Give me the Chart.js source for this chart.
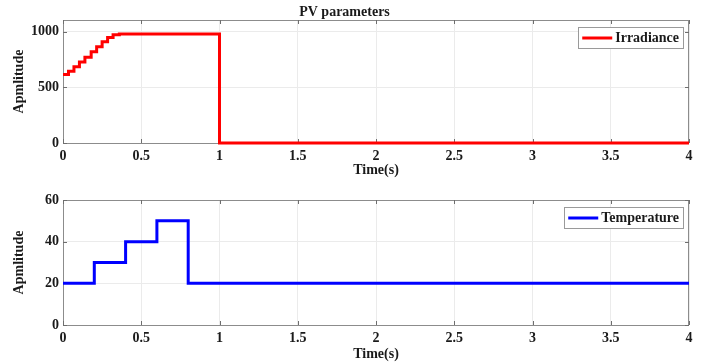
<!DOCTYPE html>
<html>
<head>
<meta charset="utf-8">
<script src="https://cdn.jsdelivr.net/npm/chart.js@4.4.1/dist/chart.umd.min.js"></script>
<style>
  html, body { margin: 0; padding: 0; background: #fff; }
  #wrap { position: relative; width: 706px; height: 363px; }
  .c { position: absolute; left: 0; }
</style>
</head>
<body>
<div id="wrap">
  <div class="c" style="top:0;width:706px;height:180px"><canvas id="c1" width="706" height="180"></canvas></div>
  <div class="c" style="top:180px;width:706px;height:183px"><canvas id="c2" width="706" height="183"></canvas></div>
</div>
<script>
// ---- data ----
const irrTime  = [0, 0.035, 0.07, 0.105, 0.14, 0.18, 0.215, 0.25, 0.285, 0.32, 0.36, 1, 4];
const irrValue = [616, 645, 685, 728, 770, 820, 865, 910, 948, 972, 980, 0, 0];
const tempTime  = [0, 0.2, 0.4, 0.6, 0.8, 4];
const tempValue = [20, 30, 40, 50, 20, 20];
const xTicks = [0, 0.5, 1, 1.5, 2, 2.5, 3, 3.5, 4];
const irrTicks = [0, 500, 1000];
const tempTicks = [0, 20, 40, 60];

const FONT = "'Liberation Serif', 'Times New Roman', serif";
const TXT = '#1a1a1a';
const GRID = '#ebebeb';
const AXIS = '#8c8c8c';

function pts(t, v) { return t.map((x, i) => ({x: x, y: v[i]})); }

const boxPlugin = {
  id: 'box',
  beforeDatasetsDraw(chart) {
    const a = chart.chartArea, ctx = chart.ctx;
    ctx.save();
    ctx.strokeStyle = AXIS;
    ctx.lineWidth = 1;
    ctx.strokeRect(Math.round(a.left) + 0.5, Math.round(a.top) + 0.5,
                   Math.round(a.right - a.left) - 1, Math.round(a.bottom - a.top));
    // small inward tick marks (MATLAB style)
    ctx.strokeStyle = '#6e6e6e';
    ctx.beginPath();
    const xs = chart.scales.x, ys = chart.scales.y;
    xs.ticks.forEach(t => {
      const px = Math.round(xs.getPixelForValue(t.value)) + 0.5;
      ctx.moveTo(px, a.bottom); ctx.lineTo(px, a.bottom - 4);
      ctx.moveTo(px, a.top); ctx.lineTo(px, a.top + 4);
    });
    ys.ticks.forEach(t => {
      const py = Math.round(ys.getPixelForValue(t.value)) + 0.5;
      ctx.moveTo(a.left, py); ctx.lineTo(a.left + 4, py);
      ctx.moveTo(a.right, py); ctx.lineTo(a.right - 4, py);
    });
    ctx.stroke();
    ctx.restore();
  }
};

const legendPlugin = {
  id: 'inLegend',
  afterDraw(chart) {
    const a = chart.chartArea, ctx = chart.ctx;
    const ds = chart.data.datasets[0];
    ctx.save();
    ctx.font = "bold 14px " + FONT;
    const tw = ctx.measureText(ds.label).width;
    const w = 4 + 30 + 3 + tw + 4;
    const h = 21;
    const right = Math.round(a.right) - 6;
    const left = right - w;
    const top = Math.round(a.top) + 7;
    ctx.fillStyle = '#fff';
    ctx.fillRect(left, top, w, h);
    ctx.strokeStyle = '#9a9a9a';
    ctx.lineWidth = 1;
    ctx.strokeRect(Math.round(left) + 0.5, top + 0.5, Math.round(w), h);
    ctx.strokeStyle = ds.borderColor;
    ctx.lineWidth = 3;
    ctx.beginPath();
    ctx.moveTo(left + 4, top + h / 2 + 0.5);
    ctx.lineTo(left + 34, top + h / 2 + 0.5);
    ctx.stroke();
    ctx.fillStyle = TXT;
    ctx.textBaseline = 'middle';
    ctx.textAlign = 'left';
    ctx.fillText(ds.label, left + 37, top + h / 2 + 1);
    ctx.restore();
  }
};

function makeChart(id, opts) {
  return new Chart(document.getElementById(id), {
    type: 'line',
    data: {
      datasets: [{
        label: opts.label,
        data: pts(opts.t, opts.v),
        borderColor: opts.color,
        backgroundColor: opts.color,
        borderWidth: 3,
        pointRadius: 0,
        stepped: true,
        fill: false,
        clip: false,
        tension: 0
      }]
    },
    options: {
      responsive: false,
      animation: false,
      devicePixelRatio: 1,
      layout: { padding: { left: 0, right: 17, top: opts.padTop, bottom: 0 } },
      plugins: {
        legend: { display: false },
        tooltip: { enabled: false },
        title: opts.title ? {
          display: true, text: opts.title, color: TXT,
          font: { family: FONT, size: 14, weight: 'bold', lineHeight: 1 },
          padding: { top: 5, bottom: 1 }
        } : { display: false }
      },
      scales: {
        x: {
          type: 'linear', min: 0, max: 4,
          afterBuildTicks(s) { s.ticks = xTicks.map(v => ({value: v})); },
          afterFit(s) { s.height = opts.xH; },
          ticks: {
            color: TXT, padding: 5, maxRotation: 0, autoSkip: false,
            font: { family: FONT, size: 14, weight: 'bold' },
            callback: v => String(v)
          },
          grid: { color: GRID, drawTicks: false },
          border: { display: false },
          title: {
            display: true, text: 'Time(s)', color: TXT,
            font: { family: FONT, size: 14, weight: 'bold' },
            padding: { top: 0, bottom: opts.xTitlePad }
          }
        },
        y: {
          type: 'linear', min: 0, max: opts.yMax,
          afterBuildTicks(s) { s.ticks = opts.yTicks.map(v => ({value: v})); },
          afterFit(s) { s.width = 63; },
          ticks: {
            color: TXT, padding: 4, autoSkip: false,
            font: { family: FONT, size: 14, weight: 'bold' },
            callback: v => String(v)
          },
          grid: { color: GRID, drawTicks: false },
          border: { display: false },
          title: {
            display: true, text: 'Apmlitude', color: TXT,
            font: { family: FONT, size: 14, weight: 'bold' },
            padding: { top: 11, bottom: 0 }
          }
        }
      }
    },
    plugins: [boxPlugin, legendPlugin]
  });
}

makeChart('c1', {
  label: 'Irradiance', t: irrTime, v: irrValue, color: '#ff0000',
  title: 'PV parameters', padTop: 0, yMax: 1105, yTicks: irrTicks, xH: 37, xTitlePad: 1.6
});
makeChart('c2', {
  label: 'Temperature', t: tempTime, v: tempValue, color: '#0000ff',
  title: null, padTop: 20, yMax: 60, yTicks: tempTicks, xH: 38, xTitlePad: 0.6
});
</script>
</body>
</html>
